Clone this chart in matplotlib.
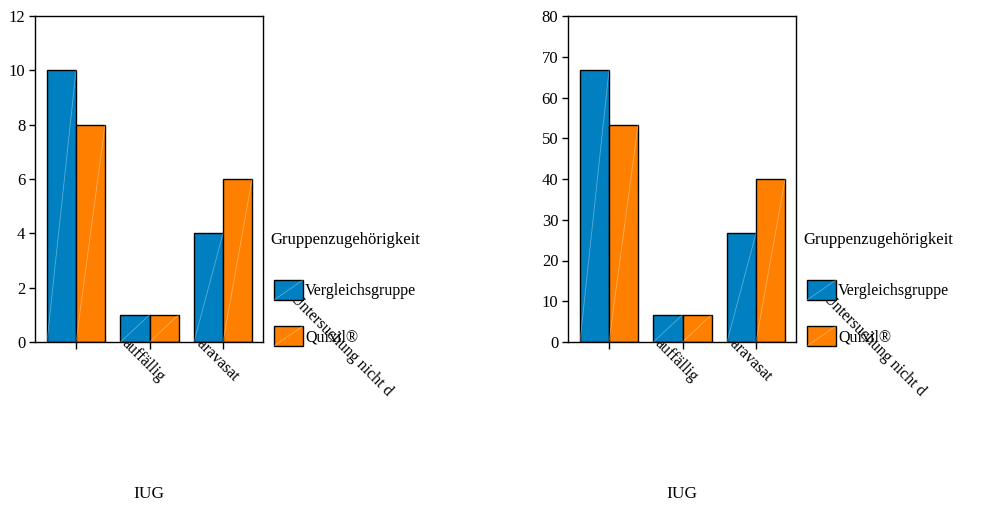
import matplotlib
matplotlib.use("Agg")
import matplotlib.pyplot as plt
import matplotlib.transforms as mtransforms
from matplotlib.patches import Rectangle
import numpy as np

# data (counts left, percent right)
categories = ["unauffällig", "auffällig", "Paravasat"]
tick_labels = ["", "auffällig", "Paravasat", "Untersuchung nicht d"]  # first one is not visible in the source
series_names = ["Vergleichsgruppe", "Quixil®"]
counts_vergleich = [10, 1, 4]
counts_quixil = [8, 1, 6]
pct_vergleich = [66.7, 6.7, 26.7]
pct_quixil = [53.3, 6.7, 40.0]
x_title = "IUG"
legend_title = "Gruppenzugehörigkeit"

colors = ["#0080C0", "#FF8000"]
W, H = 993, 509

plt.rcParams["font.family"] = ["Liberation Serif", "DejaVu Serif"]

fig = plt.figure(figsize=(W / 100, H / 100), dpi=100)


def px_ax(left, top, right, bottom):
    return fig.add_axes([left / W, 1 - bottom / H, (right - left) / W, (bottom - top) / H])


def draw_panel(ax, values, ymax, ystep):
    x = np.arange(len(categories))
    width = 0.395
    for k, vals in enumerate(values):
        xs = x + (k - 0.5) * width
        ax.bar(xs, vals, width, color=colors[k], edgecolor="black", linewidth=1.0, zorder=2)
        # faint diagonal highlight the original renderer left on each bar
        for xi, v in zip(xs, vals):
            ax.plot([xi - width / 2, xi + width / 2], [0, v], color="white",
                    alpha=0.35, linewidth=0.6, zorder=3)

    ax.set_xlim(-0.558, 2.544)
    ax.set_ylim(0, ymax)
    ax.set_yticks(np.arange(0, ymax + 1, ystep))
    ax.set_xticks(x)
    ax.set_xticklabels([])
    ax.tick_params(axis="y", labelsize=12, length=4, width=1, pad=3)
    ax.tick_params(axis="x", length=5, width=1)
    for s in ax.spines.values():
        s.set_linewidth(1.0)

    # rotated category labels, drawn below the axes so the plot area hides part of them
    base = mtransforms.blended_transform_factory(ax.transData, ax.transAxes)
    for i, lab in enumerate(tick_labels):
        if not lab:
            continue
        dx, dy = (13, -37) if i < len(categories) else (93, -52)
        tr = base + mtransforms.ScaledTranslation(dx / 100, dy / 100, fig.dpi_scale_trans)
        fig.text(i, 0, lab, transform=tr, rotation=-45, rotation_mode="anchor",
                 ha="right", va="center", fontsize=11.5, zorder=-1)

    ax.text(0.5, -0.466, x_title, transform=ax.transAxes, ha="center", va="center",
            fontsize=12.5)

    # legend to the right of the panel
    bb = ax.get_position()
    lx = bb.x1 * W
    fig.text((lx + 7) / W, 1 - 240 / H, legend_title, ha="left", va="center", fontsize=12)
    for k, name in enumerate(series_names):
        top = 280 + 46 * k
        fig.add_artist(Rectangle(((lx + 11) / W, 1 - (top + 20) / H), 29 / W, 20 / H,
                                 transform=fig.transFigure, facecolor=colors[k],
                                 edgecolor="black", linewidth=1.0))
        fig.add_artist(plt.Line2D([(lx + 11) / W, (lx + 40) / W],
                                  [1 - (top + 20) / H, 1 - top / H],
                                  transform=fig.transFigure, color="white",
                                  alpha=0.35, linewidth=0.6))
        fig.text((lx + 42) / W, 1 - (top + 11) / H, name, ha="left", va="center",
                 fontsize=11.5)


ax1 = px_ax(35, 16, 263, 342)
draw_panel(ax1, [counts_vergleich, counts_quixil], 12, 2)

ax2 = px_ax(568, 16, 796, 342)
draw_panel(ax2, [pct_vergleich, pct_quixil], 80, 10)

fig.savefig("out.png", dpi=100)
